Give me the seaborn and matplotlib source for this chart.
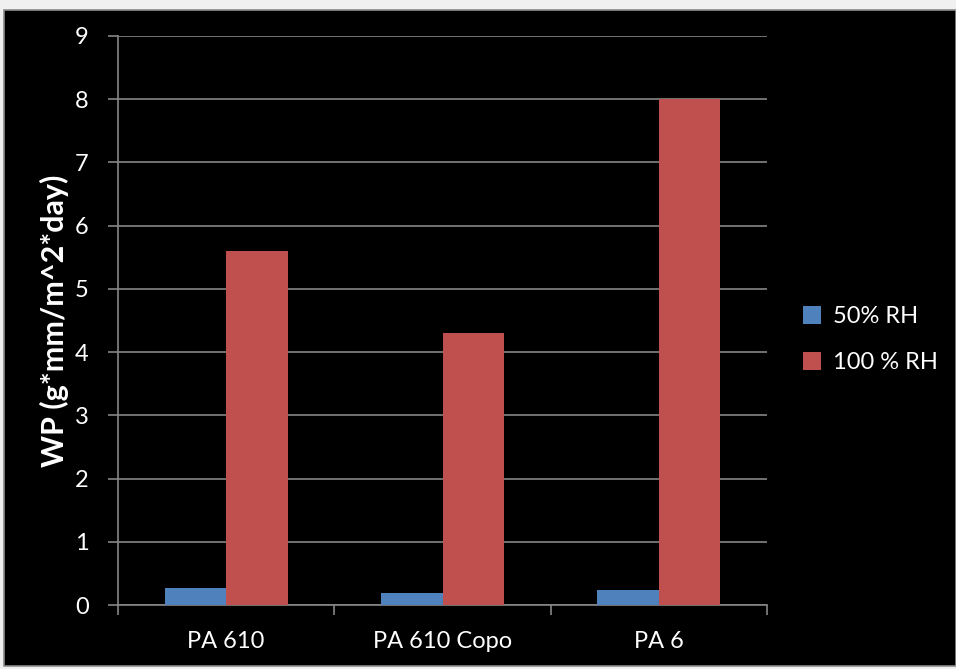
import pandas as pd
import matplotlib.pyplot as plt
import seaborn as sns
from matplotlib.patches import Rectangle

# datos
materiales = ['PA 610', 'PA 610 Copo', 'PA 6']
wp_50 = [0.27, 0.19, 0.24]
wp_100 = [5.6, 4.3, 8.0]
series = ['50% RH', '100 % RH']

df = pd.DataFrame({
    'Material': materiales * 2,
    'Serie': [series[0]] * 3 + [series[1]] * 3,
    'WP': wp_50 + wp_100,
})

sns.set_style('dark')
plt.rcParams['font.family'] = ['Lato', 'DejaVu Sans']

fig = plt.figure(figsize=(9.56, 6.69), dpi=100, facecolor='#f0f0f0')
# fondo negro del grafico
fig.patches.append(Rectangle((4 / 956, 3 / 669), 952 / 956, 656 / 669, transform=fig.transFigure,
                             facecolor='black', edgecolor='#8c8c8c', linewidth=1.2, zorder=-5))

ax = fig.add_axes([118 / 956, 64 / 669, 649 / 956, 569 / 669])
ax.set_facecolor('black')

sns.barplot(data=df, x='Material', y='WP', hue='Serie', palette=['#4F81BD', '#C0504D'],
            width=0.57, gap=0, saturation=1, linewidth=0, ax=ax, zorder=3)

ax.set_ylim(0, 9)
ax.set_yticks(range(0, 10))
ax.set_xlim(-0.5, 2.5)
ax.set_axisbelow(True)
ax.grid(axis='y', color='#868686', linewidth=1.2)
ax.grid(axis='x', visible=False)

for s in ['top', 'right']:
    ax.spines[s].set_visible(False)
for s in ['left', 'bottom']:
    ax.spines[s].set_visible(True)
    ax.spines[s].set_color('#868686')
    ax.spines[s].set_linewidth(1.2)

ax.tick_params(axis='y', colors='#868686', labelcolor='white', labelsize=17, length=7,
               width=1.2, direction='out', left=True, pad=14)
ax.set_xticks([0, 1, 2])
ax.set_xticklabels(materiales)
ax.tick_params(axis='x', colors='white', labelsize=17, length=0, pad=19)
# marcas entre categorias
ax.set_xticks([-0.5, 0.5, 1.5, 2.5], minor=True)
ax.tick_params(axis='x', which='minor', colors='#868686', length=7, width=1.2, bottom=True)

ax.set_xlabel('')
ax.set_ylabel('WP (g*mm/m^2*day)', color='white', fontsize=22, fontweight='bold', labelpad=4)

leg = ax.legend(loc='center left', bbox_to_anchor=(1.022, 0.467), frameon=False, fontsize=17,
                labelcolor='white', handlelength=0.8, handleheight=0.8, labelspacing=1.05,
                handletextpad=0.5)

plt.savefig('out.png', dpi=100, facecolor=fig.get_facecolor())
